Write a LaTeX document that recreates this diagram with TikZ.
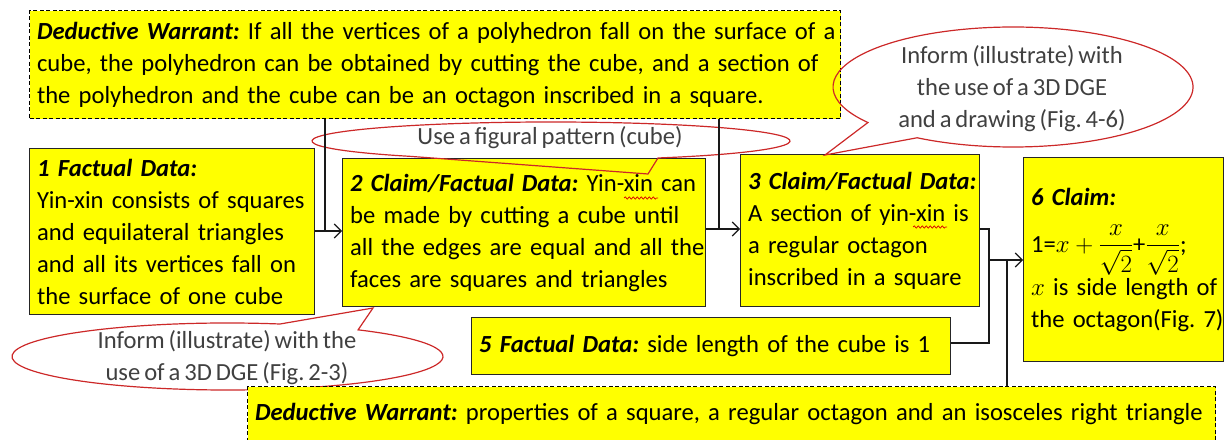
\documentclass[tikz,border=0pt]{standalone}
\usepackage{amsmath}
\usepackage{fontspec}
\setmainfont{Carlito}
\frenchspacing
\usetikzlibrary{arrows.meta,decorations.pathmorphing}
\definecolor{boxyellow}{RGB}{255,255,0}
\definecolor{callred}{RGB}{204,40,40}
\definecolor{calltext}{RGB}{64,64,64}
\newcommand\bi[1]{\textbf{\textit{#1}}}
\newcommand\ml[1]{\mbox{#1}}
\newcommand\diagfont{\fontsize{24.6}{32}\selectfont\spaceskip=3.9pt\relax}
\begin{document}
\begin{tikzpicture}[x=1pt,y=1pt,
  every node/.style={font=\diagfont},
  databox/.style={draw=black!85, line width=1.3pt, fill=boxyellow, anchor=north west,
    align=left, inner xsep=7.5pt, inner ysep=0pt},
  warrantbox/.style={databox, draw=black, line width=1.1pt, dash pattern=on 4pt off 2.5pt},
  conn/.style={draw=black!90, line width=1.1pt},
  arr/.style={conn, -{Straight Barb[length=7pt,width=14pt,line width=1.1pt]}},
  callout/.style={draw=callred, line width=1.2pt},
  calltxt/.style={text=calltext, align=center, inner sep=0pt},
  squiggle/.style={draw=red!85!black, line width=0.7pt, decorate,
    decoration={snake, amplitude=1.2pt, segment length=4pt}}
]
\useasboundingbox (0,0) rectangle (1225,439);

% ---- boxes ----
\node[warrantbox, text width=796pt, minimum height=108pt] (W1) at (29,429)
 {\ml{\bi{Deductive Warrant:} If all the vertices of a polyhedron fall on the surface of a}\\
  \ml{cube, the polyhedron can be obtained by cutting the cube, and a section of}\\
  \ml{the polyhedron and the cube can be an octagon inscribed in a square.}};

\node[databox, text width=270pt, minimum height=166pt] (B1) at (29,291)
 {\ml{\bi{1 Factual Data:}}\\
  \ml{Yin-xin consists of squares}\\
  \ml{and equilateral triangles}\\
  \ml{and all its vertices fall on}\\
  \ml{the surface of one cube}};

\node[databox, text width=348pt, minimum height=148pt] (B2) at (342,281)
 {\ml{\bi{2 Claim/Factual Data:} Yin-xin can}\\
  \ml{be made by cutting a cube until}\\
  \ml{all the edges are equal and all the}\\
  \ml{faces are squares and triangles}};

\node[databox, text width=224pt, minimum height=152pt] (B3) at (740,285)
 {\ml{\bi{3 Claim/Factual Data:}}\\
  \ml{A section of yin-xin is}\\
  \ml{a regular octagon}\\
  \ml{inscribed in a square}};

\node[databox, text width=185pt, minimum height=204pt] (B6) at (1023,282)
 {\ml{\bi{6 Claim:}}\\[15pt]
  \ml{\smash{1=\(x+\dfrac{x}{\sqrt{2}}\)+\(\dfrac{x}{\sqrt{2}}\);}}\\[11pt]
  \ml{\(x\) is side length of}\\
  \ml{the octagon(Fig. 7)}};

\node[databox, text width=464pt, minimum height=57pt] (B5) at (471,122)
 {\ml{\bi{5 Factual Data:} side length of the cube is 1}};

% ---- callouts ----
\coordinate (E1c) at (551,298);
\coordinate (E1tip) at (648,265);
\draw[callout] ([shift={(296.6:239pt and 19pt)}]E1c)
  arc[start angle=296.6, end angle=593.8, x radius=239pt, y radius=19pt] -- (E1tip) -- cycle;
\node[calltxt] (T1) at (550,301) {Use a figural pattern (cube)};

\coordinate (E2c) at (1013,352);
\coordinate (E2tip) at (825,284);
\draw[callout] ([shift={(237.8:180pt and 60pt)}]E2c)
  arc[start angle=237.8, end angle=576.3, x radius=180pt, y radius=60pt] -- (E2tip) -- cycle;
\node[calltxt] (T2) at (1012,350.5) {Inform (illustrate) with\\the use of a 3D DGE\\and a drawing (Fig. 4-6)};

\coordinate (E3c) at (227.5,82.5);
\coordinate (E3tip) at (373,131);
\draw[callout] ([shift={(75.9:215.5pt and 33.5pt)}]E3c)
  arc[start angle=75.9, end angle=412.7, x radius=215.5pt, y radius=33.5pt] -- (E3tip) -- cycle;
\node[calltxt] (T3) at (227,81.5) {Inform (illustrate) with the\\use of a 3D DGE (Fig. 2-3)};

\node[warrantbox, text width=953pt, minimum height=54pt] (W2) at (247,53)
 {\ml{\bi{Deductive Warrant:} properties of a square, a regular octagon and an isosceles right triangle}};

% ---- connectors ----
\coordinate (ja) at (325,208);
\draw[conn] (W1.south -| ja) -- (ja);
\draw[arr] (B1.east |- ja) -- (B2.west |- ja);

\coordinate (jb) at (719,210);
\draw[conn] (W1.south -| jb) -- (jb);
\draw[arr] (B2.east |- jb) -- (B3.west |- jb);

\coordinate (jc1) at (989,210);
\coordinate (jc2) at (989,96);
\draw[conn] (B3.east |- jc1) -- (jc1) -- (jc2) -- (B5.east |- jc2);

\coordinate (jd) at (989,179);
\draw[arr] (jd) -- (B6.west |- jd);
\coordinate (je) at (1007,179);
\draw[conn] (W2.north -| je) -- (je);

% ---- spell-check squiggles ----
\draw[squiggle] (624,241) -- (658,241);
\draw[squiggle] (913,212) -- (947,212);
\end{tikzpicture}
\end{document}
